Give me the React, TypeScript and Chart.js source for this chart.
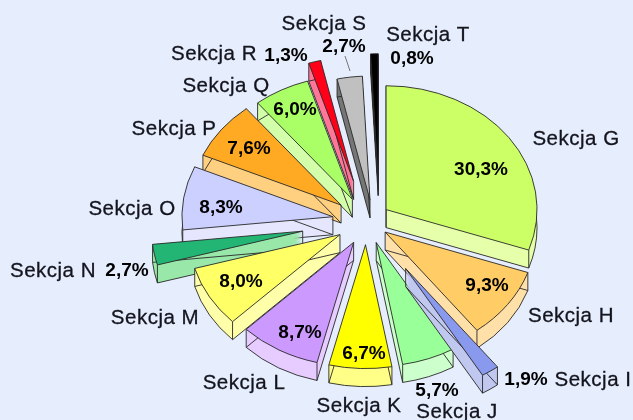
import React, { useEffect, useRef } from "react";
import { Chart, registerables } from "chart.js";

Chart.register(...registerables);

const categories = ["Sekcja G", "Sekcja H", "Sekcja I", "Sekcja J", "Sekcja K", "Sekcja L", "Sekcja M", "Sekcja N", "Sekcja O", "Sekcja P", "Sekcja Q", "Sekcja R", "Sekcja S", "Sekcja T"];
const shares = [30.3, 9.3, 1.9, 5.7, 6.7, 8.7, 8.0, 2.7, 8.3, 7.6, 6.0, 1.3, 2.7, 0.8];
const topColors = ["#CCFF66", "#FFCC66", "#8899EE", "#99FF99", "#FFFF00", "#CC99FF", "#FFFF66", "#22B573", "#CCD0FF", "#FFAA22", "#AAFF66", "#FF0018", "#C0C0C0", "#000000"];
const sideColors = ["#E6FFAA", "#FFE0A8", "#C0C8F0", "#CCFFCC", "#FFFF88", "#E6CCFF", "#FFFFAA", "#99E8AA", "#E6E6FF", "#FFD080", "#D4FFAA", "#FF7799", "#777777", "#333333"];
const explode = [24, 23, 70, 28, 29, 30, 33, 65, 34, 32, 30, 50, 26, 53];
const nudgeX = [0, 0, 0, 0, 0, 2, 2, 0, 0, 0, 0, 0, 7, 13];

const nameSpots = [[576, 139], [571, 316], [593, 380], [457, 412], [359, 406], [244, 383], [155, 318], [53, 271], [132, 209], [174, 129], [226, 86], [214, 54], [324, 24], [428, 35]];
const shareSpots = [[481, 170], [487, 286], [526, 380], [437, 391], [364, 354], [300, 333], [241, 282], [127, 271], [221, 208], [249, 149], [295, 110], [286, 56], [344, 47], [412, 59]];

const TILT = 0.82;
const DEPTH = 18;
const INK = "#2a2a2a";

const pct = (v: number) => v.toFixed(1).replace(".", ",") + "%";

const piePlugin = {
  id: "tiltedPie",
  beforeDatasetDraw(chart: any, args: any) {
    const ctx = chart.ctx;
    const arcs = chart.getDatasetMeta(args.index).data as any[];
    const cy0 = arcs[0].y;
    const shift = (a: any, i: number) => {
      const mid = (a.startAngle + a.endAngle) / 2;
      return [Math.cos(mid) * explode[i] + nudgeX[i], Math.sin(mid) * explode[i]];
    };
    ctx.save();
    ctx.translate(0, cy0);
    ctx.scale(1, TILT);
    ctx.translate(0, -cy0);
    const d = DEPTH / TILT;
    const order = arcs.map((_, i) => i).sort((p, q) => shift(arcs[p], p)[1] + Math.sin((arcs[p].startAngle + arcs[p].endAngle) / 2) * 60 - (shift(arcs[q], q)[1] + Math.sin((arcs[q].startAngle + arcs[q].endAngle) / 2) * 60));
    const slice = (a: any, dx: number, dy: number) => {
      ctx.beginPath();
      ctx.moveTo(a.x + dx, a.y + dy);
      ctx.arc(a.x + dx, a.y + dy, a.outerRadius, a.startAngle, a.endAngle);
      ctx.closePath();
    };
    for (const i of order) {
      const a = arcs[i];
      const [dx, dy] = shift(a, i);
      ctx.fillStyle = sideColors[i];
      for (let s = d; s >= 0; s -= 1) {
        slice(a, dx, dy + s);
        ctx.fill();
      }
      ctx.strokeStyle = INK;
      ctx.lineWidth = 1;
      slice(a, dx, dy + d);
      ctx.stroke();
      const corners = [[a.x + dx, a.y + dy], [a.x + dx + Math.cos(a.startAngle) * a.outerRadius, a.y + dy + Math.sin(a.startAngle) * a.outerRadius], [a.x + dx + Math.cos(a.endAngle) * a.outerRadius, a.y + dy + Math.sin(a.endAngle) * a.outerRadius]];
      for (const [px, py] of corners) {
        ctx.beginPath();
        ctx.moveTo(px, py);
        ctx.lineTo(px, py + d);
        ctx.stroke();
      }
      ctx.save();
      ctx.translate(dx, dy);
      a.draw(ctx);
      ctx.restore();
    }
    ctx.restore();
    return false;
  },
  afterDatasetsDraw(chart: any) {
    const ctx = chart.ctx;
    ctx.save();
    ctx.strokeStyle = "#777777";
    ctx.lineWidth = 1;
    ctx.beginPath();
    ctx.moveTo(345, 56);
    ctx.lineTo(350, 71);
    ctx.stroke();
    ctx.textAlign = "center";
    ctx.textBaseline = "middle";
    ctx.fillStyle = "#14141e";
    ctx.strokeStyle = "#14141e";
    ctx.lineWidth = 0.3;
    ctx.font = '20.5px "Liberation Sans", sans-serif';
    (ctx as any).letterSpacing = "0.5px";
    categories.forEach((c, i) => {
      ctx.fillText(c, nameSpots[i][0], nameSpots[i][1]);
      ctx.strokeText(c, nameSpots[i][0], nameSpots[i][1]);
    });
    (ctx as any).letterSpacing = "0px";
    ctx.fillStyle = "#000000";
    ctx.font = 'bold 19px "Liberation Sans", sans-serif';
    shares.forEach((v, i) => ctx.fillText(pct(v), shareSpots[i][0], shareSpots[i][1]));
    ctx.restore();
  },
};

export default function App() {
  const ref = useRef<HTMLCanvasElement>(null);
  useEffect(() => {
    document.body.style.margin = "0";
    document.body.style.background = "#E6EEFD";
    const chart = new Chart(ref.current as HTMLCanvasElement, {
      type: "pie",
      data: {
        labels: categories,
        datasets: [{ data: shares, backgroundColor: topColors, borderColor: INK, borderWidth: 1, radius: 151 } as any],
      },
      options: {
        responsive: false,
        animation: false,
        layout: { padding: { left: 100, top: 22 } },
        plugins: { legend: { display: false }, tooltip: { enabled: false } },
      },
      plugins: [piePlugin as any],
    });
    return () => chart.destroy();
  }, []);
  return (
    <div style={{ width: 633, height: 420, background: "#E6EEFD", overflow: "hidden" }}>
      <canvas ref={ref} width={633} height={420} style={{ display: "block", filter: "blur(0.5px)" }} />
    </div>
  );
}
